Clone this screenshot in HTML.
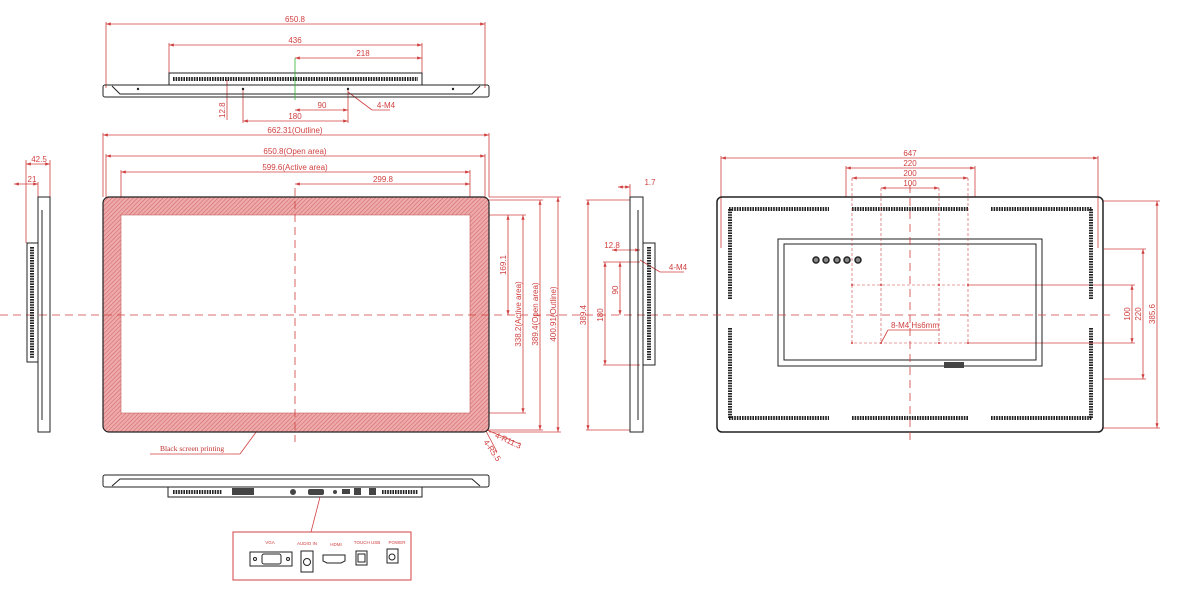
<!DOCTYPE html>
<html><head><meta charset="utf-8"><style>
html,body{margin:0;padding:0;background:#fff;}
svg{display:block;font-family:"Liberation Sans",sans-serif;}
.d{stroke:#d04040;stroke-width:0.8;fill:none}
.t{fill:#d04040;font-size:8px;text-anchor:middle}
.k{stroke:#222;stroke-width:1;fill:none}
.v{stroke:#222;stroke-width:4;stroke-dasharray:1.6 1;fill:none}
.c{stroke:#d04040;stroke-width:0.8;stroke-dasharray:8 5;fill:none}
</style></head><body>
<svg width="1182" height="600" viewBox="0 0 1182 600">
<defs>
<pattern id="h" width="3" height="3" patternUnits="userSpaceOnUse" patternTransform="rotate(45)">
<rect width="3" height="3" fill="#eeaaaa"/><line x1="0" y1="0" x2="0" y2="3" stroke="#c85050" stroke-width="0.8"/>
</pattern>
<marker id="a" markerWidth="6" markerHeight="4" refX="6" refY="2" orient="auto-start-reverse"><path d="M0,0L6,2L0,4z" fill="#d04040"/></marker>
</defs>

<!-- TOP VIEW -->
<g class="d" marker-start="url(#a)" marker-end="url(#a)">
<line x1="106" y1="24" x2="485" y2="24"/>
<line x1="169" y1="45" x2="422" y2="45"/>
<line x1="295" y1="58" x2="422" y2="58"/>
<line x1="295" y1="110" x2="348" y2="110"/>
<line x1="243" y1="121" x2="348" y2="121"/>
</g>
<g class="d"><line x1="106" y1="22" x2="106" y2="88"/><line x1="485" y1="22" x2="485" y2="88"/>
<line x1="169" y1="43" x2="169" y2="73"/><line x1="422" y1="43" x2="422" y2="73"/>
<line x1="243" y1="90" x2="243" y2="123"/><line x1="348" y1="90" x2="348" y2="123"/>
<line x1="227" y1="80" x2="227" y2="120"/><line x1="348" y1="92" x2="372" y2="110"/><line x1="372" y1="110" x2="390" y2="110"/></g>
<text class="t" x="295" y="22">650.8</text><text class="t" x="295" y="43">436</text><text class="t" x="363" y="56">218</text>
<text class="t" x="322" y="108">90</text><text class="t" x="295" y="119">180</text><text class="t" x="386" y="108">4-M4</text>
<text class="t" transform="translate(225,118) rotate(-90)" style="text-anchor:start">12.8</text>
<rect class="k" x="169" y="73" width="253" height="12"/>
<line class="v" x1="173" y1="79" x2="418" y2="79"/>
<rect class="k" x="103" y="85" width="386" height="12" rx="2"/>
<path class="k" d="M112,86 L120,94 L472,94 L480,86" stroke-width="0.7"/>
<line x1="295" y1="58" x2="295" y2="100" stroke="#30b030" stroke-width="0.8"/>
<g fill="#222"><circle cx="138" cy="89" r="1.2"/><circle cx="243" cy="89" r="1.2"/><circle cx="348" cy="89" r="1.2"/><circle cx="453" cy="89" r="1.2"/></g>

<!-- FRONT -->
<g class="d" marker-start="url(#a)" marker-end="url(#a)">
<line x1="103" y1="135" x2="489" y2="135"/>
<line x1="106" y1="156" x2="485" y2="156"/>
<line x1="121" y1="172" x2="470" y2="172"/>
<line x1="295" y1="184" x2="470" y2="184"/>
<line x1="508" y1="215" x2="508" y2="315"/>
<line x1="523" y1="215" x2="523" y2="413"/>
<line x1="540" y1="200" x2="540" y2="430"/>
<line x1="558" y1="197" x2="558" y2="432"/>
</g>
<g class="d"><line x1="103" y1="133" x2="103" y2="197"/><line x1="489" y1="133" x2="489" y2="197"/>
<line x1="106" y1="154" x2="106" y2="200"/><line x1="485" y1="154" x2="485" y2="200"/>
<line x1="121" y1="170" x2="121" y2="215"/><line x1="470" y1="170" x2="470" y2="215"/>
<line x1="470" y1="215" x2="526" y2="215"/><line x1="470" y1="413" x2="526" y2="413"/>
<line x1="485" y1="200" x2="543" y2="200"/><line x1="485" y1="430" x2="543" y2="430"/>
<line x1="489" y1="197" x2="561" y2="197"/><line x1="489" y1="432" x2="561" y2="432"/>
<path d="M240,454 L150,454 M240,454 L262,424"/>
<path d="M487,430 L520,444"/><path d="M486,431 L497,452"/></g>
<text class="t" x="295" y="133">662.31(Outline)</text><text class="t" x="295" y="154">650.8(Open area)</text>
<text class="t" x="295" y="170">599.6(Active area)</text><text class="t" x="383" y="182">299.8</text>
<text class="t" transform="translate(506,265) rotate(-90)">169.1</text>
<text class="t" transform="translate(521,314) rotate(-90)">338.2(Active area)</text>
<text class="t" transform="translate(538,314) rotate(-90)">389.4(Open area)</text>
<text class="t" transform="translate(556,314) rotate(-90)">400.91(Outline)</text>
<text x="160" y="451" fill="#c03030" font-family="Liberation Serif,serif" font-size="7.5">Black screen printing</text>
<text class="t" transform="translate(507,443) rotate(25)">4-R11.3</text>
<text class="t" transform="translate(490,452) rotate(55)">4-R5.5</text>
<rect x="103" y="197" width="386" height="235" rx="6" fill="url(#h)" stroke="#222" stroke-width="1.2"/>
<rect x="121" y="215" width="349" height="198" fill="#fff" stroke="#c86060" stroke-width="0.6"/>
<line class="c" x1="0" y1="315" x2="700" y2="315"/>
<line class="c" x1="295" y1="188" x2="295" y2="442"/>

<!-- LEFT SIDE -->
<g class="d" marker-start="url(#a)" marker-end="url(#a)"><line x1="26" y1="164" x2="50" y2="164"/><line x1="14" y1="184" x2="38" y2="184"/></g>
<g class="d"><line x1="26" y1="160" x2="26" y2="243"/><line x1="50" y1="160" x2="50" y2="197"/><line x1="38" y1="182" x2="38" y2="197"/></g>
<text class="t" x="39" y="162">42.5</text><text class="t" x="32" y="182">21</text>
<rect class="k" x="38" y="197" width="12" height="235"/>
<line class="k" x1="42" y1="210" x2="42" y2="420" stroke-width="0.6"/>
<rect class="k" x="27" y="243" width="11" height="119"/>
<line class="v" x1="32" y1="247" x2="32" y2="358"/>

<!-- RIGHT SIDE -->
<g class="d" marker-start="url(#a)" marker-end="url(#a)">
<line x1="588" y1="200" x2="588" y2="430"/><line x1="605" y1="262" x2="605" y2="365"/><line x1="620" y1="262" x2="620" y2="315"/>
<line x1="618" y1="187" x2="630" y2="187"/><line x1="612" y1="250" x2="640" y2="250"/></g>
<g class="d"><line x1="586" y1="200" x2="630" y2="200"/><line x1="586" y1="430" x2="630" y2="430"/>
<line x1="603" y1="262" x2="640" y2="262"/><line x1="603" y1="365" x2="640" y2="365"/>
<line x1="630" y1="184" x2="630" y2="215"/><line x1="640" y1="260" x2="660" y2="272"/><line x1="660" y1="272" x2="684" y2="272"/></g>
<text class="t" x="650" y="185">1.7</text><text class="t" x="612" y="248">12.8</text><text class="t" x="678" y="270">4-M4</text>
<text class="t" transform="translate(586,315) rotate(-90)">389.4</text>
<text class="t" transform="translate(603,315) rotate(-90)">180</text>
<text class="t" transform="translate(618,290) rotate(-90)">90</text>
<rect class="k" x="630" y="197" width="13" height="235"/>
<line class="k" x1="638" y1="210" x2="638" y2="420" stroke-width="0.6"/>
<rect class="k" x="643" y="243" width="12" height="122"/>
<line class="v" x1="649" y1="247" x2="649" y2="360"/>

<!-- BOTTOM VIEW -->
<rect class="k" x="103" y="475" width="386" height="12" rx="2"/>
<path class="k" d="M112,486 L120,479 L472,479 L480,486" stroke-width="0.7"/>
<rect class="k" x="168" y="487" width="254" height="10"/>
<line class="v" x1="173" y1="492" x2="222" y2="492"/><line class="v" x1="382" y1="492" x2="418" y2="492"/>
<rect x="232" y="488" width="22" height="7" fill="#444"/><circle cx="293" cy="492" r="3" fill="#444"/>
<rect x="308" y="489" width="16" height="6" rx="2" fill="#444"/><circle cx="335" cy="492" r="2" fill="#444"/>
<rect x="342" y="489" width="8" height="5" fill="#444"/><rect x="354" y="488" width="7" height="7" fill="#444"/><rect x="369" y="488" width="7" height="7" fill="#444"/>
<line class="d" x1="320" y1="497" x2="311" y2="532"/>
<rect x="233" y="532" width="178" height="48" fill="none" stroke="#d04040" stroke-width="1"/>
<g fill="#d04040" font-size="4.5" text-anchor="middle"><text x="270" y="544">VGA</text><text x="307" y="545">AUDIO IN</text><text x="336" y="546">HDMI</text><text x="367" y="544">TOUCH USB</text><text x="397" y="544">POWER</text></g>
<rect class="k" x="250" y="552" width="42" height="14"/><rect class="k" x="262" y="554" width="19" height="10" rx="2"/>
<circle class="k" cx="255" cy="559" r="1.5"/><circle class="k" cx="288" cy="559" r="1.5"/>
<rect class="k" x="301" y="551" width="12" height="21"/><circle class="k" cx="307" cy="562" r="3.5"/>
<path class="k" d="M323,555 L345,555 L345,561 L341,563 L327,563 L323,561z"/>
<rect class="k" x="356" y="551" width="11" height="14"/><rect class="k" x="358" y="554" width="7" height="8"/>
<rect class="k" x="387" y="549" width="11" height="14"/><circle class="k" cx="392" cy="557" r="3"/>

<!-- BACK VIEW -->
<g class="d" marker-start="url(#a)" marker-end="url(#a)">
<line x1="721" y1="158" x2="1098" y2="158"/><line x1="846" y1="168" x2="975" y2="168"/>
<line x1="852" y1="178" x2="968" y2="178"/><line x1="881" y1="188" x2="939" y2="188"/>
<line x1="1132" y1="285" x2="1132" y2="343"/><line x1="1143" y1="249" x2="1143" y2="379"/><line x1="1157" y1="201" x2="1157" y2="428"/></g>
<g class="d"><line x1="721" y1="156" x2="721" y2="248"/><line x1="1098" y1="156" x2="1098" y2="248"/>
<line x1="846" y1="166" x2="846" y2="197"/><line x1="975" y1="166" x2="975" y2="197"/>
<line x1="1102" y1="201" x2="1160" y2="201"/><line x1="1102" y1="428" x2="1160" y2="428"/>
<line x1="1104" y1="249" x2="1146" y2="249"/><line x1="1104" y1="379" x2="1146" y2="379"/>
<line x1="968" y1="285" x2="1135" y2="285"/><line x1="968" y1="343" x2="1135" y2="343"/>
<line x1="881" y1="343" x2="888" y2="330"/><line x1="888" y1="330" x2="940" y2="330"/></g>
<text class="t" x="910" y="156">647</text><text class="t" x="910" y="166">220</text><text class="t" x="910" y="176">200</text><text class="t" x="910" y="186">100</text>
<text class="t" x="915" y="328">8-M4 Hs6mm</text>
<text class="t" transform="translate(1130,314) rotate(-90)">100</text>
<text class="t" transform="translate(1141,314) rotate(-90)">220</text>
<text class="t" transform="translate(1155,314) rotate(-90)">385.6</text>
<rect x="717" y="197" width="386" height="235" rx="5" fill="none" stroke="#222" stroke-width="1.5"/>
<g class="v"><line x1="729" y1="209" x2="829" y2="209"/><line x1="852" y1="209" x2="968" y2="209"/><line x1="991" y1="209" x2="1092" y2="209"/>
<line x1="729" y1="418" x2="829" y2="418"/><line x1="852" y1="418" x2="968" y2="418"/><line x1="991" y1="418" x2="1092" y2="418"/>
<line x1="730" y1="209" x2="730" y2="300"/><line x1="730" y1="328" x2="730" y2="418"/>
<line x1="1091" y1="209" x2="1091" y2="300"/><line x1="1091" y1="328" x2="1091" y2="418"/></g>
<rect class="k" x="778" y="239" width="264" height="127"/>
<rect class="k" x="784" y="244" width="252" height="116" stroke-width="0.7"/>
<g stroke="#222" stroke-width="1.5" fill="#888"><circle cx="816" cy="260" r="3"/><circle cx="826" cy="260" r="3"/><circle cx="837" cy="260" r="3"/><circle cx="847" cy="260" r="3"/><circle cx="858" cy="260" r="3"/></g>
<rect x="944" y="362" width="20" height="6" fill="#444"/>
<rect x="852" y="285" width="116" height="58" fill="none" stroke="#d04040" stroke-width="0.6" stroke-dasharray="3 2"/>
<g stroke="#d04040" stroke-width="0.6" stroke-dasharray="3 2"><line x1="881" y1="188" x2="881" y2="343"/><line x1="939" y1="188" x2="939" y2="343"/><line x1="852" y1="178" x2="852" y2="285"/><line x1="968" y1="178" x2="968" y2="285"/></g>
<g fill="#d04040"><circle cx="852" cy="285" r="1"/><circle cx="881" cy="285" r="1"/><circle cx="939" cy="285" r="1"/><circle cx="968" cy="285" r="1"/><circle cx="852" cy="343" r="1"/><circle cx="881" cy="343" r="1"/><circle cx="939" cy="343" r="1"/><circle cx="968" cy="343" r="1"/></g>
<line class="c" x1="700" y1="315" x2="1110" y2="315"/>
<line class="c" x1="910" y1="185" x2="910" y2="440"/>
</svg>
</body></html>
